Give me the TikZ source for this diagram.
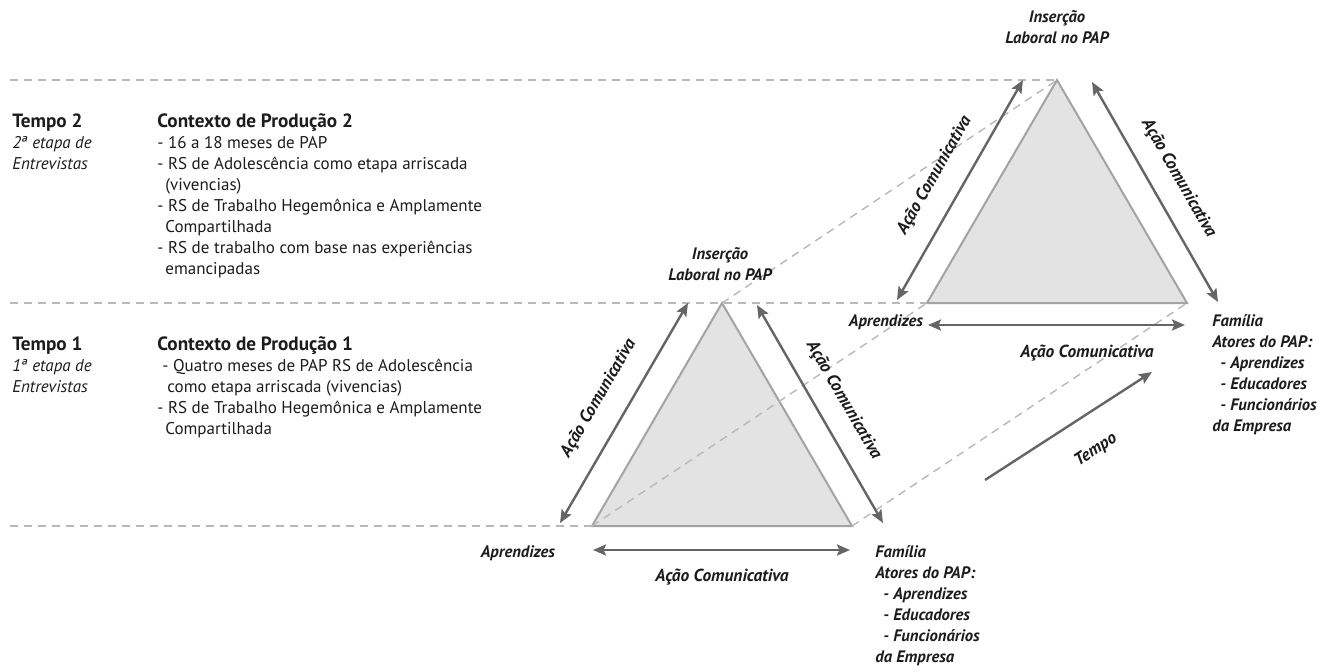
\documentclass[tikz,border=0pt]{standalone}
\usepackage{fontspec}
\setmainfont{PT Sans}
\usetikzlibrary{arrows.meta,positioning}
\definecolor{arrowgray}{HTML}{656565}
\definecolor{trifill}{HTML}{E3E3E3}
\definecolor{triline}{HTML}{A3A3A3}
\definecolor{guidegray}{HTML}{B8B8B8}
\definecolor{ink}{HTML}{1C1C1C}
\newcommand{\hd}[1]{{\fontsize{9.6}{10.5}\selectfont\bfseries #1}}

\begin{document}
\begin{tikzpicture}[x=0.5pt,y=-0.5pt,font=\fontsize{8.5}{10.5}\selectfont,text=ink,
 guide/.style={draw=guidegray,line width=0.7pt,dash pattern=on 4pt off 3pt},
 tri/.style={fill=trifill,draw=triline,line width=1pt,line join=miter},
 comm/.style={draw=arrowgray,line width=1.2pt,{Stealth[length=6.5pt,width=5.5pt,inset=1.2pt]}-{Stealth[length=6.5pt,width=5.5pt,inset=1.2pt]}},
 lbl/.style={font=\fontsize{8.7}{10.5}\selectfont\bfseries\itshape,inner sep=0pt},
 corner/.style={font=\fontsize{8.3}{10.5}\selectfont\bfseries\itshape,inner sep=0pt,align=left},
 txt/.style={align=left,inner sep=0pt,anchor=north west}]
\useasboundingbox (0,0) rectangle (1329,670);

% corners of the two triangles
\coordinate (a1) at (722,303);\coordinate (l1) at (592,526);\coordinate (r1) at (852,526);
\coordinate (a2) at (1057,80);\coordinate (l2) at (927,303);\coordinate (r2) at (1187,303);
\coordinate (g1) at (10,526);\coordinate (g2) at (10,303);\coordinate (g3) at (10,80);

\draw[tri](a1)--(l1)--(r1)--cycle;
\draw[tri](a2)--(l2)--(r2)--cycle;

\draw[guide](g1)--(l1);\draw[guide](g2)--(l2);\draw[guide](g3)--(a2);
\draw[guide](l1)--(l2);\draw[guide](a1)--(a2);\draw[guide](r1)--(r2);

% left column
\node[txt](t2) at (12,113){\hd{Tempo 2}\\\textit{2ª etapa de}\\\textit{Entrevistas}};
\node[txt](c2) at (157,113){\hd{Contexto de Produção 2}\\
- 16 a 18 meses de PAP\\
- RS de Adolescência como etapa arriscada\\
\hspace*{4pt}(vivencias)\\
- RS de Trabalho Hegemônica e Amplamente\\
\hspace*{4pt}Compartilhada\\
- RS de trabalho com base nas experiências\\
\hspace*{4pt}emancipadas};
\node[txt](t1) at (12,336){\hd{Tempo 1}\\\textit{1ª etapa de}\\\textit{Entrevistas}};
\node[txt](c1) at (157,336){\hd{Contexto de Produção 1}\\
\hspace*{2.5pt}- Quatro meses de PAP RS de Adolescência\\
\hspace*{5pt}como etapa arriscada (vivencias)\\
- RS de Trabalho Hegemônica e Amplamente\\
\hspace*{4pt}Compartilhada};

% arrow ends, triangle 1
\coordinate (p1) at (560,523);\coordinate (q1) at (688,303);
\coordinate (p2) at (757,305);\coordinate (q2) at (883,523);
\coordinate (p3) at (593,550);\coordinate (q3) at (850,550);
% arrow ends, triangle 2
\coordinate (p4) at (897,300);\coordinate (q4) at (1023,80);
\coordinate (p5) at (1092,82);\coordinate (q5) at (1218,302);
\coordinate (p6) at (928,325);\coordinate (q6) at (1185,325);
\coordinate (p7) at (985,480);\coordinate (q7) at (1152,372);

\draw[comm](p1)--node[lbl,sloped,above=10pt]{Ação Comunicativa}(q1);
\draw[comm](p2)--node[lbl,sloped,above=9pt]{Ação Comunicativa}(q2);
\draw[comm](p3)--(q3);
\draw[comm](p4)--node[lbl,sloped,above=10pt]{Ação Comunicativa}(q4);
\draw[comm](p5)--node[lbl,sloped,above=9pt]{Ação Comunicativa}(q5);
\draw[comm](p6)--(q6);
\draw[draw=arrowgray,line width=1.2pt,-{Stealth[length=6.5pt,width=5.5pt,inset=1.2pt]}](p7)--node[lbl,sloped,below=13pt,pos=0.55]{Tempo}(q7);

\node[lbl](ac1) at (722,577){Ação Comunicativa};
\node[lbl](ac2) at (1087,353){Ação Comunicativa};

% corner labels
\node[corner,align=center](ins1) at (720,264){Inserção\\Laboral no PAP};
\node[corner,align=center](ins2) at (1057,27){Inserção\\Laboral no PAP};
\node[corner](ap1) at (518,553){Aprendizes};
\node[corner](ap2) at (886,322){Aprendizes};
\node[corner,anchor=north west](fa1) at (875,545){Família\\Atores do PAP:\\
\hspace*{4pt}- Aprendizes\\\hspace*{4pt}- Educadores\\\hspace*{4pt}- Funcionários\\da Empresa};
\node[corner,anchor=north west](fa2) at (1212,314){Família\\Atores do PAP:\\
\hspace*{4pt}- Aprendizes\\\hspace*{4pt}- Educadores\\\hspace*{4pt}- Funcionários\\da Empresa};
\end{tikzpicture}
\end{document}
